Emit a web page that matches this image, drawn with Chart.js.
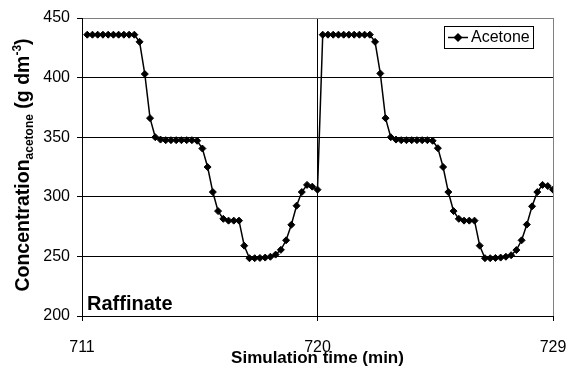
<!DOCTYPE html>
<html>
<head>
<meta charset="utf-8">
<script src="https://cdn.jsdelivr.net/npm/chart.js@4.4.0/dist/chart.umd.min.js"></script>
<style>
  html, body { margin: 0; padding: 0; background: #fff; }
  #wrap { width: 568px; height: 373px; }
</style>
</head>
<body>
<div id="wrap"><canvas id="raffinateChart" width="568" height="373"></canvas></div>
<script>
// Simulation time (min), one sample every 0.2 min
const times = [
    711.2, 711.4, 711.6, 711.8, 712.0, 712.2, 712.4, 712.6, 712.8, 713.0,
    713.2, 713.4, 713.6, 713.8, 714.0, 714.2, 714.4, 714.6, 714.8, 715.0,
    715.2, 715.4, 715.6, 715.8, 716.0, 716.2, 716.4, 716.6, 716.8, 717.0,
    717.2, 717.4, 717.6, 717.8, 718.0, 718.2, 718.4, 718.6, 718.8, 719.0,
    719.2, 719.4, 719.6, 719.8, 720.0,
    720.2, 720.4, 720.6, 720.8, 721.0, 721.2, 721.4, 721.6, 721.8, 722.0,
    722.2, 722.4, 722.6, 722.8, 723.0, 723.2, 723.4, 723.6, 723.8, 724.0,
    724.2, 724.4, 724.6, 724.8, 725.0, 725.2, 725.4, 725.6, 725.8, 726.0,
    726.2, 726.4, 726.6, 726.8, 727.0, 727.2, 727.4, 727.6, 727.8, 728.0,
    728.2, 728.4, 728.6, 728.8, 729.0
];

// Acetone concentration in the raffinate (g dm-3)
const acetone = [
    436, 436, 436, 436, 436, 436, 436, 436, 436, 436,
    430, 403, 366, 350, 348, 347.5, 347.5, 347.5, 347.5, 347.5,
    347.5, 347, 340.5, 325, 304, 288, 281.5, 280, 280, 280,
    259, 248.5, 248.5, 248.7, 249, 249.7, 251.5, 255.5, 263.5, 276.5,
    292.5, 304, 310, 308.5, 306,
    436, 436, 436, 436, 436, 436, 436, 436, 436, 436,
    430, 403.5, 366, 350, 348, 347.5, 347.5, 347.5, 347.5, 347.5,
    347.5, 347, 340.8, 325, 304, 288, 281.5, 280, 280, 280,
    259, 248.5, 248.5, 248.7, 249, 249.7, 251, 255.3, 263.5, 276.7,
    292, 304, 310, 309, 306
];

const xTicks = [711, 720, 729];
const yTicks = [200, 250, 300, 350, 400, 450];

const FONT = "'Liberation Sans', Arial, sans-serif";

// Titles, legend and the "Raffinate" label
const textPlugin = {
    id: 'textPlugin',
    afterDraw(chart) {
        const ctx = chart.ctx;
        const area = chart.chartArea;
        ctx.save();
        ctx.fillStyle = '#000';

        // Raffinate label
        ctx.font = 'bold 20px ' + FONT;
        ctx.textAlign = 'left';
        ctx.textBaseline = 'alphabetic';
        ctx.fillText('Raffinate', 87, 310);

        // x title
        ctx.font = 'bold 17px ' + FONT;
        ctx.textAlign = 'center';
        ctx.fillText('Simulation time (min)', (area.left + area.right) / 2, 363);

        // y title with subscript / superscript
        const parts = [
            { t: 'Concentration', size: 19.5, dy: 0 },
            { t: 'acetone', size: 12, dy: 4 },
            { t: ' (g dm', size: 19.5, dy: 0 },
            { t: '-3', size: 12, dy: -8 },
            { t: ')', size: 19.5, dy: 0 }
        ];
        let total = 0;
        parts.forEach(p => {
            ctx.font = 'bold ' + p.size + 'px ' + FONT;
            p.w = ctx.measureText(p.t).width;
            total += p.w;
        });
        ctx.translate(29, 165);
        ctx.rotate(-Math.PI / 2);
        ctx.textAlign = 'left';
        let x = -total / 2;
        parts.forEach(p => {
            ctx.font = 'bold ' + p.size + 'px ' + FONT;
            ctx.fillText(p.t, x, p.dy);
            x += p.w;
        });
        ctx.restore();

        // legend
        ctx.save();
        ctx.strokeStyle = '#000';
        ctx.lineWidth = 1;
        ctx.strokeRect(444.5, 26.5, 89, 22);
        ctx.lineWidth = 1.5;
        ctx.beginPath();
        ctx.moveTo(448, 37.5);
        ctx.lineTo(468, 37.5);
        ctx.stroke();
        ctx.fillStyle = '#000';
        ctx.beginPath();
        ctx.moveTo(458, 33);
        ctx.lineTo(462.5, 37.5);
        ctx.lineTo(458, 42);
        ctx.lineTo(453.5, 37.5);
        ctx.closePath();
        ctx.fill();
        ctx.font = '16px ' + FONT;
        ctx.textBaseline = 'middle';
        ctx.fillText(chart.data.datasets[0].label, 471, 38);
        ctx.restore();
    }
};

const ctx = document.getElementById('raffinateChart').getContext('2d');
new Chart(ctx, {
    type: 'line',
    data: {
        datasets: [{
            label: 'Acetone',
            data: times.map((t, i) => ({ x: t, y: acetone[i] })),
            borderColor: '#000',
            borderWidth: 1.5,
            backgroundColor: '#000',
            pointStyle: 'rectRot',
            pointRadius: 3.5,
            pointBorderWidth: 1,
            pointBorderColor: '#000',
            pointBackgroundColor: '#000',
            fill: false,
            tension: 0
        }]
    },
    options: {
        responsive: false,
        animation: false,
        layout: {
            padding: { left: 0, right: 15, top: 18, bottom: 0 }
        },
        plugins: {
            legend: { display: false },
            tooltip: { enabled: false }
        },
        scales: {
            x: {
                type: 'linear',
                min: 711,
                max: 729,
                afterBuildTicks: scale => { scale.ticks = xTicks.map(v => ({ value: v })); },
                afterFit: scale => {
                    scale.height = 57;
                    scale.paddingLeft = 0;
                    scale.paddingRight = 0;
                },
                ticks: {
                    color: '#000',
                    font: { family: FONT, size: 16 },
                    padding: 17,
                    maxRotation: 0
                },
                grid: {
                    color: c => (c.tick && c.tick.value === 729) ? '#808080' : '#000',
                    lineWidth: 1,
                    tickLength: 5,
                    tickColor: '#000'
                },
                border: { color: '#000', width: 1 }
            },
            y: {
                min: 200,
                max: 450,
                afterBuildTicks: scale => { scale.ticks = yTicks.map(v => ({ value: v })); },
                afterFit: scale => {
                    scale.width = 82;
                    scale.paddingTop = 0;
                    scale.paddingBottom = 0;
                },
                ticks: {
                    color: '#000',
                    font: { family: FONT, size: 16 },
                    padding: 7
                },
                grid: {
                    color: c => (c.tick && c.tick.value === 450) ? '#808080' : '#000',
                    lineWidth: 1,
                    tickLength: 5,
                    tickColor: '#000'
                },
                border: { color: '#000', width: 1 }
            }
        }
    },
    plugins: [textPlugin]
});
</script>
</body>
</html>
